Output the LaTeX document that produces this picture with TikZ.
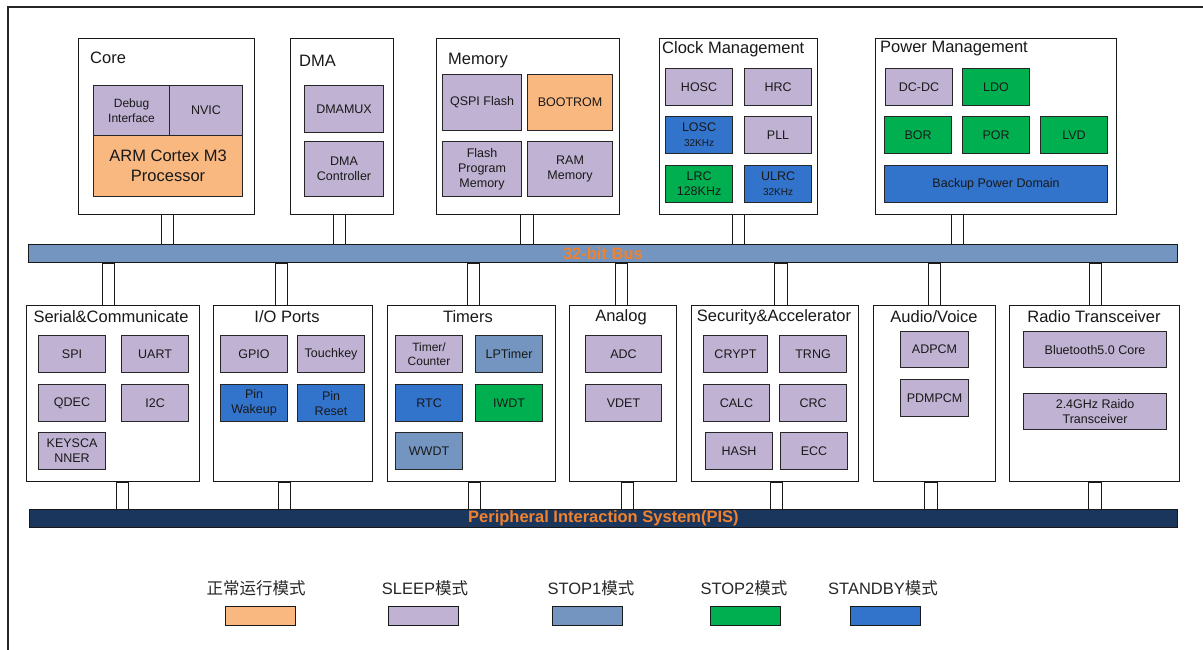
\documentclass[tikz,border=0pt]{standalone}
\usepackage{fontspec}
\setmainfont{Liberation Sans}
\newfontfamily\cjk{Noto Sans CJK SC}
\definecolor{cOr}{HTML}{F8B880}
\definecolor{cLav}{HTML}{C0B2D3}
\definecolor{cSa}{HTML}{7395BF}
\definecolor{cGr}{HTML}{00B050}
\definecolor{cSb}{HTML}{3273CC}
\definecolor{cPis}{HTML}{1B365D}
\definecolor{cTx}{HTML}{F0822E}
\newcommand\fsz[2]{\fontsize{#1}{#2}\selectfont}
\newcommand\smtxt{\fontsize{10}{11.5}\selectfont}
\begin{document}
\begin{tikzpicture}[x=1pt,y=-1pt,
 grp/.style={draw=black!90,line width=0.9pt,fill=white,anchor=north west,inner sep=0pt,minimum width=#1,minimum height=176},
 ttl/.style={font=\fsz{16.5}{19},text=black!90,inner sep=0pt},
 ib/.style 2 args={draw=black!85,line width=1.1pt,anchor=north west,inner sep=0pt,align=center,
   text=black!90,font=\fsz{12.5}{15},minimum width=#1,minimum height=#2},
 lav/.style={fill=cLav}, org/.style={fill=cOr}, sa/.style={fill=cSa}, grn/.style={fill=cGr}, sb/.style={fill=cSb},
 conn/.style={draw=black!90,line width=0.8pt,fill=white},
 bus/.style={draw=black!90,line width=0.9pt,anchor=north west,inner sep=0pt,minimum height=18,
   font=\bfseries\fsz{16.5}{19},text=cTx},
 lgt/.style={font=\fsz{16.5}{19},text=black!85,inner sep=0pt},
 sw/.style={draw=black!90,line width=1pt,anchor=north west,inner sep=0pt,minimum height=19,minimum width=70}]
\useasboundingbox (0,0) rectangle (1203,650);
\draw[line width=1.2pt,black!85] (8,650) -- (8,7) -- (1203,7);

% ---------- top groups ----------
\node[grp=176] (core) at (78,38) {};
\node[ttl,anchor=west] (coreT) at (90,58) {Core};
\node[ib={76}{50},lav,font=\fsz{12}{14.5}] (dbg) at (93,85) {Debug\\Interface};
\node[ib={73}{50},lav] (nvic) at (169,85) {NVIC};
\node[ib={149}{61},org,font=\fsz{16.5}{19.5}] (arm) at (93,135) {ARM Cortex M3\\Processor};

\node[grp=103] (dma) at (290,38) {};
\node[ttl,anchor=west] (dmaT) at (299,61) {DMA};
\node[ib={79}{47},lav] (dmamux) at (304,85) {DMAMUX};
\node[ib={79}{55},lav] (dmac) at (304,141) {DMA\\Controller};

\node[grp=183] (mem) at (436,38) {};
\node[ttl,anchor=west] (memT) at (448,61) {Memory};
\node[ib={79}{56},lav] (qspi) at (442,74) {QSPI Flash};
\node[ib={85}{56},org] (boot) at (527,74) {BOOTROM};
\node[ib={79}{55},lav] (fpm) at (442,141) {Flash\\Program\\Memory};
\node[ib={85}{55},lav] (ram) at (527,141) {RAM\\Memory};

\node[grp=158] (clk) at (659,38) {};
\node[ttl,anchor=west] (clkT) at (662,49) {Clock Management};
\node[ib={67}{37},lav] (hosc) at (665,68) {HOSC};
\node[ib={67}{37},lav] (hrc) at (744,68) {HRC};
\node[ib={67}{37},sb] (losc) at (665,116) {LOSC\\{\smtxt 32KHz}};
\node[ib={67}{37},lav] (pll) at (744,116) {PLL};
\node[ib={67}{37},grn] (lrc) at (665,165) {LRC\\128KHz};
\node[ib={67}{37},sb] (ulrc) at (744,165) {ULRC\\{\smtxt 32KHz}};

\node[grp=241] (pwr) at (875,38) {};
\node[ttl,anchor=west] (pwrT) at (880,49) {Power Management};
\node[ib={67}{37},lav] (dcdc) at (885,68) {DC-DC};
\node[ib={67}{37},grn] (ldo) at (962,68) {LDO};
\node[ib={67}{37},grn] (bor) at (884,116) {BOR};
\node[ib={67}{37},grn] (por) at (962,116) {POR};
\node[ib={67}{37},grn] (lvd) at (1040,116) {LVD};
\node[ib={223}{37},sb] (bkp) at (884,165) {Backup Power Domain};

% ---------- 32-bit bus ----------
\node[bus,fill=cSa,minimum width=1149] (bus) at (28,244) {32-bit Bus};

% ---------- bottom groups ----------
\node[grp=173] (ser) at (26,305) {};
\node[ttl] (serT) at (111,317) {Serial\&Communicate};
\node[ib={67}{37},lav] (spi) at (38,335) {SPI};
\node[ib={67}{37},lav] (uart) at (121,335) {UART};
\node[ib={67}{37},lav] (qdec) at (38,384) {QDEC};
\node[ib={67}{37},lav] (iic) at (121,384) {I2C};
\node[ib={67}{37},lav] (keys) at (38,432) {KEYSCA\\NNER};

\node[grp=159] (io) at (213,305) {};
\node[ttl] (ioT) at (287,317) {I/O Ports};
\node[ib={67}{37},lav] (gpio) at (220,335) {GPIO};
\node[ib={67}{37},lav] (tkey) at (297,335) {Touchkey};
\node[ib={67}{37},sb] (pwk) at (220,384) {Pin\\Wakeup};
\node[ib={67}{37},sb] (prs) at (297,384) {Pin\\Reset};

\node[grp=168] (tim) at (387,305) {};
\node[ttl] (timT) at (468,317) {Timers};
\node[ib={67}{37},lav,font=\fsz{12}{14}] (tc) at (395,335) {Timer/\\Counter};
\node[ib={67}{37},sa] (lpt) at (475,335) {LPTimer};
\node[ib={67}{37},sb] (rtc) at (395,384) {RTC};
\node[ib={67}{37},grn] (iwdt) at (475,384) {IWDT};
\node[ib={67}{37},sa] (wwdt) at (395,432) {WWDT};

\node[grp=107] (ana) at (569,305) {};
\node[ttl] (anaT) at (621,317) {Analog};
\node[ib={76}{37},lav] (adc) at (585,335) {ADC};
\node[ib={76}{37},lav] (vdet) at (585,384) {VDET};

\node[grp=167] (sec) at (691,305) {};
\node[ttl] (secT) at (774,317) {Security\&Accelerator};
\node[ib={64}{37},lav] (crypt) at (703,335) {CRYPT};
\node[ib={67}{37},lav] (trng) at (779,335) {TRNG};
\node[ib={66}{37},lav] (calc) at (703,384) {CALC};
\node[ib={67}{37},lav] (crc) at (779,384) {CRC};
\node[ib={67}{37},lav] (hash) at (705,432) {HASH};
\node[ib={67}{37},lav] (ecc) at (780,432) {ECC};

\node[grp=122] (aud) at (873,305) {};
\node[ttl] (audT) at (934,317) {Audio/Voice};
\node[ib={68}{36},lav] (adpcm) at (900,331) {ADPCM};
\node[ib={68}{37},lav] (pdm) at (900,379) {PDMPCM};

\node[grp=170] (rad) at (1009,305) {};
\node[ttl] (radT) at (1094,317) {Radio Transceiver};
\node[ib={143}{36},lav] (bt) at (1023,331) {Bluetooth5.0 Core};
\node[ib={143}{36},lav] (rf) at (1023,393) {2.4GHz Raido\\Transceiver};

% ---------- PIS ----------
\node[bus,fill=cPis,minimum width=1148] (pis) at (29,509) {Peripheral Interaction System(PIS)};

% ---------- connectors ----------
\draw[conn] (161,0 |- core.south) rectangle (173,0 |- bus.north);
\draw[conn] (333,0 |- dma.south) rectangle (345,0 |- bus.north);
\draw[conn] (520,0 |- mem.south) rectangle (533,0 |- bus.north);
\draw[conn] (732,0 |- clk.south) rectangle (744,0 |- bus.north);
\draw[conn] (951,0 |- pwr.south) rectangle (963,0 |- bus.north);

\draw[conn] (102,0 |- bus.south) rectangle (114,0 |- ser.north);
\draw[conn] (275,0 |- bus.south) rectangle (287,0 |- io.north);
\draw[conn] (467,0 |- bus.south) rectangle (479,0 |- tim.north);
\draw[conn] (615,0 |- bus.south) rectangle (627,0 |- ana.north);
\draw[conn] (774,0 |- bus.south) rectangle (787,0 |- sec.north);
\draw[conn] (928,0 |- bus.south) rectangle (940,0 |- aud.north);
\draw[conn] (1089,0 |- bus.south) rectangle (1101,0 |- rad.north);

\draw[conn] (116,0 |- ser.south) rectangle (128,0 |- pis.north);
\draw[conn] (278,0 |- io.south) rectangle (290,0 |- pis.north);
\draw[conn] (468,0 |- tim.south) rectangle (480,0 |- pis.north);
\draw[conn] (621,0 |- ana.south) rectangle (633,0 |- pis.north);
\draw[conn] (770,0 |- sec.south) rectangle (782,0 |- pis.north);
\draw[conn] (924,0 |- aud.south) rectangle (937,0 |- pis.north);
\draw[conn] (1088,0 |- rad.south) rectangle (1101,0 |- pis.north);

% ---------- legend ----------
\node[lgt] (lg1) at (256,588) {\cjk 正常运行模式};
\node[lgt] (lg2) at (425,588) {SLEEP{\cjk 模式}};
\node[lgt] (lg3) at (591,588) {STOP1{\cjk 模式}};
\node[lgt] (lg4) at (744,588) {STOP2{\cjk 模式}};
\node[lgt] (lg5) at (883,588) {STANDBY{\cjk 模式}};
\node[sw,fill=cOr] (sw1) at (225,606) {};
\node[sw,fill=cLav] (sw2) at (388,606) {};
\node[sw,fill=cSa] (sw3) at (552,606) {};
\node[sw,fill=cGr] (sw4) at (710,606) {};
\node[sw,fill=cSb] (sw5) at (850,606) {};
\end{tikzpicture}
\end{document}
